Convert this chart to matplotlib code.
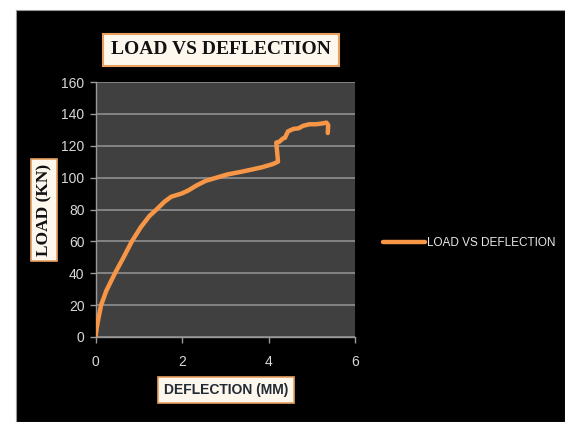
import matplotlib.pyplot as plt
from matplotlib.patches import Rectangle

# load-deflection readings
deflection_mm = [0, 0.03, 0.07, 0.13, 0.25, 0.45, 0.65, 0.84, 1.05, 1.25, 1.41,
                 1.6, 1.75, 1.99, 2.15, 2.33, 2.55, 2.8, 3.05, 3.34, 3.6, 3.85,
                 4.1, 4.22, 4.18, 4.25, 4.33, 4.38, 4.45, 4.57, 4.7, 4.8, 4.95,
                 5.1, 5.25, 5.34, 5.38, 5.37]
load_kn = [0, 6, 12, 20, 29, 40, 50, 60, 69, 76, 80,
           85, 88, 90, 92, 95, 98, 100, 102, 103.5, 105, 106.5,
           108.5, 110, 122, 122.5, 124.5, 125, 129, 130.5, 131, 132.5, 133.5,
           133.5, 134, 134.5, 133, 128]

x_ticks = [0, 2, 4, 6]
y_ticks = [0, 20, 40, 60, 80, 100, 120, 140, 160]

orange = "#f79646"
sans = ["Liberation Sans", "DejaVu Sans"]
serif = ["Liberation Serif", "DejaVu Serif"]

fig = plt.figure(figsize=(5.65, 4.22), dpi=100, facecolor="white")
# black chart background
fig.patches.append(Rectangle((16 / 565, 0), 1 - 16 / 565, 1 - 10 / 422,
                             transform=fig.transFigure, facecolor="black",
                             edgecolor="#999999", lw=0.8, zorder=-5))

ax = fig.add_axes([95.5 / 565, 85 / 422, 259.5 / 565, 255 / 422])
ax.set_zorder(2)
ax.set_facecolor("#404040")
ax.plot(deflection_mm, load_kn, color=orange, lw=3.2, solid_joinstyle="round",
        solid_capstyle="round", label="LOAD VS DEFLECTION", zorder=3)

ax.set_xlim(0, 6)
ax.set_ylim(0, 160)
ax.set_xticks(x_ticks)
ax.set_yticks(y_ticks)
ax.yaxis.grid(True, color="#8a8a8a", lw=1.3)
ax.set_axisbelow(True)
for side in ["top", "right"]:
    ax.spines[side].set_visible(False)
for side in ["left", "bottom"]:
    ax.spines[side].set_color("#9a9a9a")
    ax.spines[side].set_linewidth(1.0)
ax.tick_params(axis="both", colors="#9a9a9a", length=4, width=1.0,
               labelcolor="#d8d8d8", labelsize=10)
ax.tick_params(axis="x", pad=9)
ax.tick_params(axis="y", pad=4)
for lbl in ax.get_xticklabels() + ax.get_yticklabels():
    lbl.set_family(sans)

fig.text(221 / 565, 1 - 50 / 422, "LOAD VS DEFLECTION", family=serif,
         fontweight="bold", fontsize=14, color="#111111", ha="center", va="center",
         zorder=5,
         bbox=dict(boxstyle="square,pad=0.4", facecolor="#fdf7ee",
                   edgecolor="#e8a060", lw=1.5))
fig.text(44 / 565, 1 - 210 / 422, "LOAD (KN)", family=serif, fontweight="bold",
         fontsize=12.5, color="#111111", rotation=90, ha="center", va="center",
         zorder=5,
         bbox=dict(boxstyle="square,pad=0.3", facecolor="#fdf7ee",
                   edgecolor="#e8a060", lw=1.2))
fig.text(226 / 565, 1 - 390 / 422, "DEFLECTION (MM)", family=sans,
         fontweight="bold", fontsize=10, color="#222a33", ha="center", va="center",
         zorder=5,
         bbox=dict(boxstyle="square,pad=0.45", facecolor="#fdf7ee",
                   edgecolor="#e8a060", lw=1.2))

leg = ax.legend(loc="center left", bbox_to_anchor=(378 / 565, 1 - 243 / 422),
                bbox_transform=fig.transFigure, frameon=False, fontsize=8.5,
                handlelength=3.6, handletextpad=0.15, borderaxespad=0)
for txt in leg.get_texts():
    txt.set_color("#e8e8e8")
    txt.set_family(sans)

fig.savefig("out.png", dpi=100, facecolor="white")
